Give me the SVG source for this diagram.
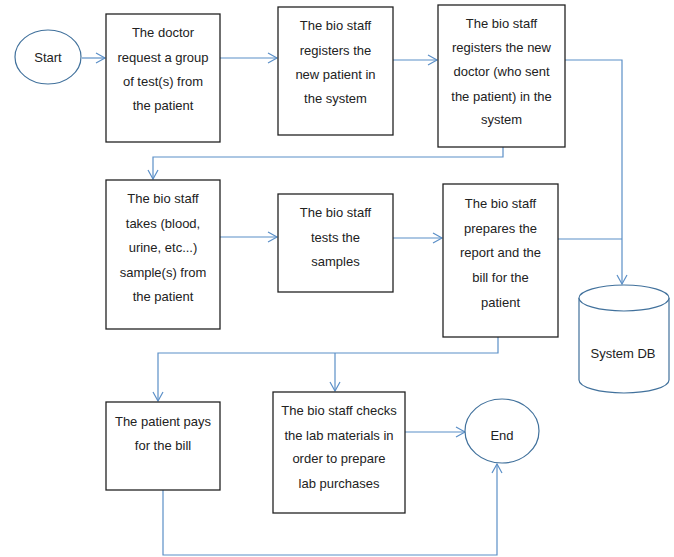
<svg xmlns="http://www.w3.org/2000/svg" width="674" height="557" viewBox="0 0 674 557">
<style>
.box{fill:#fff;stroke:#222;stroke-width:1.3}
.term{fill:#fff;stroke:#41719c;stroke-width:1.2}
.t{font-family:"Liberation Sans",Arial,sans-serif;font-size:13px;fill:#222;text-anchor:middle}
.c{fill:none;stroke:#5b8fc7;stroke-width:1.2}
</style>
<defs>
<marker id="a" markerWidth="12" markerHeight="12" refX="10" refY="6" orient="auto" markerUnits="userSpaceOnUse">
<path d="M1,1 L10,6 L1,11" fill="none" stroke="#5b8fc7" stroke-width="1.2"/>
</marker>
</defs>
<rect width="674" height="557" fill="#fff"/>
<g id="connectors">
<path class="c" d="M82,58 H105" marker-end="url(#a)"/>
<path class="c" d="M220,58 H277" marker-end="url(#a)"/>
<path class="c" d="M393,60 H437" marker-end="url(#a)"/>
<path class="c" d="M565,60 H622 V284" marker-end="url(#a)"/>
<path class="c" d="M558,239 H622"/>
<path class="c" d="M503,147 V157 H153 V179" marker-end="url(#a)"/>
<path class="c" d="M220,237 H277" marker-end="url(#a)"/>
<path class="c" d="M393,238 H442" marker-end="url(#a)"/>
<path class="c" d="M498,337 V353 H158 V401" marker-end="url(#a)"/>
<path class="c" d="M335,353 V391" marker-end="url(#a)"/>
<path class="c" d="M405,432 H465" marker-end="url(#a)"/>
<path class="c" d="M163,490 V555 H497 V464" marker-end="url(#a)"/>
</g>
<g id="start">
<ellipse class="term" cx="48" cy="57" rx="33" ry="27"/>
<text class="t" x="48" y="62">Start</text>
</g>
<g id="n1">
<rect class="box" x="106" y="14" width="114" height="128"/>
<text class="t" x="163" y="37">The doctor</text>
<text class="t" x="163" y="62">request a group</text>
<text class="t" x="163" y="86">of test(s) from</text>
<text class="t" x="163" y="110">the patient</text>
</g>
<g id="n2">
<rect class="box" x="278" y="7" width="115" height="128"/>
<text class="t" x="335.5" y="30">The bio staff</text>
<text class="t" x="335.5" y="55">registers the</text>
<text class="t" x="335.5" y="79">new patient in</text>
<text class="t" x="335.5" y="103">the system</text>
</g>
<g id="n3">
<rect class="box" x="438" y="5" width="127" height="142"/>
<text class="t" x="501.5" y="28">The bio staff</text>
<text class="t" x="501.5" y="52">registers the new</text>
<text class="t" x="501.5" y="76">doctor  (who sent</text>
<text class="t" x="501.5" y="101">the patient) in the</text>
<text class="t" x="501.5" y="124">system</text>
</g>
<g id="n4">
<rect class="box" x="106" y="180" width="114" height="149"/>
<text class="t" x="163" y="203">The bio staff</text>
<text class="t" x="163" y="228">takes (blood,</text>
<text class="t" x="163" y="252">urine, etc...)</text>
<text class="t" x="163" y="277">sample(s) from</text>
<text class="t" x="163" y="301">the patient</text>
</g>
<g id="n5">
<rect class="box" x="278" y="194" width="115" height="98"/>
<text class="t" x="335.5" y="217">The bio staff</text>
<text class="t" x="335.5" y="242">tests the</text>
<text class="t" x="335.5" y="266">samples</text>
</g>
<g id="n6">
<rect class="box" x="443" y="184" width="115" height="153"/>
<text class="t" x="500.5" y="208">The bio staff</text>
<text class="t" x="500.5" y="233">prepares the</text>
<text class="t" x="500.5" y="257">report and the</text>
<text class="t" x="500.5" y="282">bill for the</text>
<text class="t" x="500.5" y="307">patient</text>
</g>
<g id="db">
<path class="term" d="M579,298 V380 A45,13 0 0 0 669,380 V298"/>
<ellipse class="term" cx="624" cy="298" rx="45" ry="13"/>
<text class="t" x="623" y="358">System DB</text>
</g>
<g id="n7">
<rect class="box" x="106" y="402" width="114" height="88"/>
<text class="t" x="163" y="426">The patient pays</text>
<text class="t" x="163" y="450">for the bill</text>
</g>
<g id="n8">
<rect class="box" x="273" y="392" width="132" height="121"/>
<text class="t" x="339" y="415">The bio staff checks</text>
<text class="t" x="339" y="440">the lab materials in</text>
<text class="t" x="339" y="463">order to prepare</text>
<text class="t" x="339" y="488">lab purchases</text>
</g>
<g id="end">
<ellipse class="term" cx="502" cy="431" rx="37" ry="32"/>
<text class="t" x="502" y="440">End</text>
</g>
</svg>
